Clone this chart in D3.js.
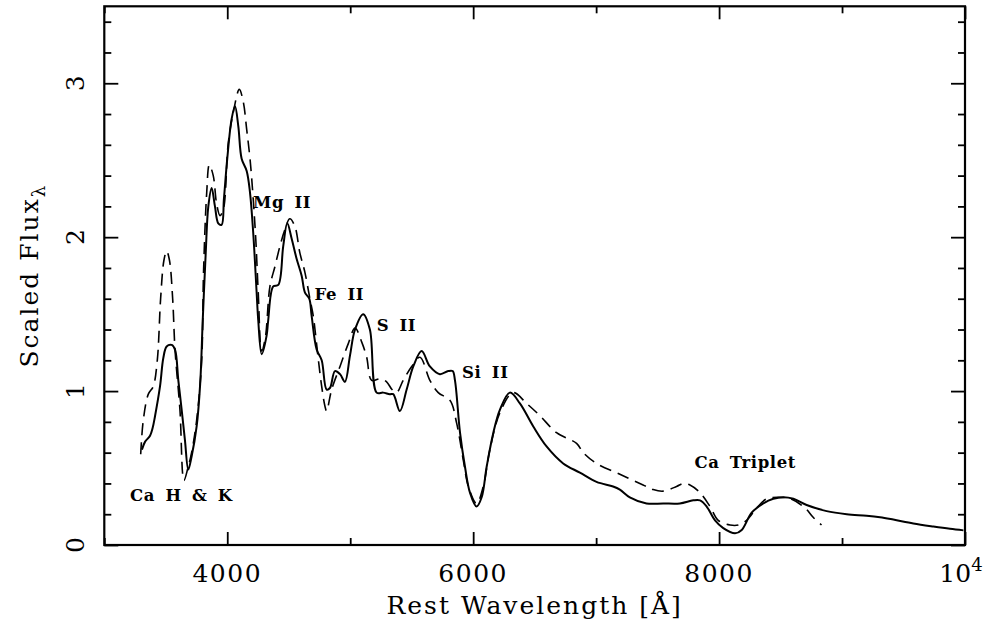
<!DOCTYPE html>
<html><head><meta charset="utf-8">
<script src="https://cdn.jsdelivr.net/npm/d3@7"></script>
<style>body{margin:0;background:#fff}svg{display:block}</style>
</head><body>
<svg id="c" width="997" height="629"></svg>
<script>
// Observed spectrum (solid)
const solidWave = [3306,3331,3372,3393,3412,3453,3480,3507,3548,3575,3602,3629,3656,3683,3710,3751,3780,3800,3825,3846,3873,3900,3927,3954,3973,4000,4036,4063,4090,4117,4158,4185,4211,4239,4252,4280,4320,4333,4374,4415,4455,4488,4524,4564,4605,4632,4667,4686,4727,4768,4808,4835,4876,4917,4957,4998,5039,5106,5160,5215,5268,5322,5350,5404,5459,5513,5581,5648,5729,5797,5833,5852,5893,5933,5974,6028,6069,6110,6164,6218,6299,6380,6489,6597,6732,6868,7003,7138,7193,7274,7410,7545,7681,7790,7845,7899,7967,8034,8130,8184,8265,8360,8441,8522,8604,8712,8875,9038,9200,9309,9417,9580,9743,9878,9987];
const solidFlux = [0.62,0.67,0.71,0.76,0.835,1.03,1.215,1.29,1.30,1.27,1.07,0.88,0.68,0.49,0.575,0.77,1.05,1.45,1.9,2.2,2.32,2.20,2.09,2.08,2.25,2.51,2.77,2.85,2.72,2.51,2.43,2.29,2.03,1.64,1.46,1.24,1.36,1.46,1.68,1.69,1.94,2.09,1.99,1.86,1.75,1.64,1.60,1.49,1.27,1.20,1.01,1.02,1.13,1.11,1.06,1.23,1.40,1.50,1.40,0.99,0.99,0.98,0.98,0.87,1.01,1.16,1.26,1.16,1.11,1.13,1.13,1.07,0.73,0.51,0.34,0.25,0.31,0.51,0.73,0.88,0.99,0.92,0.77,0.64,0.53,0.47,0.41,0.38,0.36,0.31,0.27,0.27,0.27,0.29,0.29,0.25,0.16,0.11,0.076,0.098,0.21,0.27,0.30,0.31,0.30,0.26,0.22,0.20,0.19,0.18,0.165,0.14,0.12,0.105,0.095];
// Model spectrum (dashed)
const dashWave = [3296,3317,3358,3398,3431,3458,3485,3507,3530,3556,3575,3615,3648,3680,3710,3751,3792,3807,3833,3854,3886,3913,3941,3968,4008,4049,4098,4130,4158,4185,4211,4233,4252,4280,4310,4347,4388,4428,4469,4509,4550,4590,4632,4672,4699,4740,4768,4795,4808,4849,4917,4985,5039,5093,5134,5174,5242,5296,5340,5377,5431,5500,5567,5648,5716,5811,5866,5920,5961,6028,6082,6136,6218,6326,6434,6543,6678,6841,6895,7003,7193,7382,7464,7545,7654,7709,7763,7845,7926,7993,8089,8157,8224,8306,8387,8480,8580,8700,8765,8833];
const dashFlux = [0.59,0.81,0.98,1.03,1.20,1.6,1.85,1.91,1.85,1.6,1.27,0.88,0.42,0.50,0.60,0.81,1.2,1.77,2.29,2.47,2.40,2.22,2.14,2.18,2.61,2.81,2.96,2.88,2.70,2.51,2.25,1.97,1.64,1.26,1.35,1.68,1.81,1.94,2.05,2.12,2.07,1.90,1.77,1.60,1.49,1.21,1.03,0.90,0.87,1.01,1.16,1.31,1.41,1.32,1.22,1.07,1.08,1.06,1.01,0.99,1.07,1.16,1.22,1.07,0.99,0.94,0.79,0.55,0.38,0.27,0.38,0.62,0.86,0.99,0.92,0.84,0.73,0.66,0.60,0.53,0.46,0.39,0.36,0.35,0.38,0.40,0.39,0.34,0.25,0.16,0.13,0.13,0.16,0.24,0.30,0.31,0.30,0.24,0.18,0.13];

const xMajor = [4000,6000,8000,10000];
const xMajorLabels = ["4000","6000","8000","10^4"];
const xMinor = [3000,5000,7000,9000];
const yMajor = [0,1,2,3];
const yMajorLabels = ["0","1","2","3"];
const yMinor = [0.2,0.4,0.6,0.8,1.2,1.4,1.6,1.8,2.2,2.4,2.6,2.8,3.2,3.4];

const lineLabels = ["Ca H & K","Mg II","Fe II","S II","Si II","Ca Triplet"];
const lineLabelWave = [3210,4210,4710,5215,5910,7800];
const lineLabelFlux = [0.285,2.19,1.59,1.39,1.085,0.50];

const svg = d3.select("#c");
const L=104.3, R=965, T=6.3, B=545;
const x = d3.scaleLinear().domain([3000,10000]).range([L,R]);
const y = d3.scaleLinear().domain([0,3.5]).range([B,T]);

svg.append("rect").attr("width",997).attr("height",629).attr("fill","#fff");

const serif = "'DejaVu Serif', serif";

function axisG(gen, tr){
  const g = svg.append("g").attr("transform",tr).call(gen);
  g.select(".domain").remove();
  g.selectAll("line").attr("stroke","#000").attr("stroke-width",1.8);
  g.selectAll("text").remove();
  return g;
}
axisG(d3.axisBottom(x).tickValues(xMajor).tickSize(-13), `translate(0,${B})`);
axisG(d3.axisBottom(x).tickValues(xMinor).tickSize(-7), `translate(0,${B})`);
axisG(d3.axisTop(x).tickValues(xMajor).tickSize(-13), `translate(0,${T})`);
axisG(d3.axisTop(x).tickValues(xMinor).tickSize(-7), `translate(0,${T})`);
axisG(d3.axisLeft(y).tickValues(yMajor).tickSize(-14), `translate(${L},0)`);
axisG(d3.axisLeft(y).tickValues(yMinor).tickSize(-7), `translate(${L},0)`);
axisG(d3.axisRight(y).tickValues(yMajor).tickSize(-14), `translate(${R},0)`);
axisG(d3.axisRight(y).tickValues(yMinor).tickSize(-7), `translate(${R},0)`);

svg.append("rect").attr("x",L).attr("y",T).attr("width",R-L).attr("height",B-T)
  .attr("fill","none").attr("stroke","#000").attr("stroke-width",2.2);

// x tick labels
xMajor.forEach((v,i)=>{
  const lab = xMajorLabels[i];
  const t = svg.append("text").attr("x",x(v)).attr("y",582).attr("text-anchor","middle")
    .attr("font-family",serif).attr("font-size",25).attr("fill","#000");
  if(lab.includes("^")){
    const [b,e]=lab.split("^");
    t.attr("x",x(v)-4);
    t.append("tspan").text(b);
    t.append("tspan").attr("dy",-11).attr("font-size",18).text(e);
  } else t.text(lab).attr("letter-spacing",1.5);
});
// y tick labels (rotated)
yMajor.forEach((v,i)=>{
  svg.append("text").attr("transform",`translate(84,${y(v)}) rotate(-90)`)
    .attr("text-anchor","middle").attr("font-family",serif).attr("font-size",25).attr("fill","#000")
    .text(yMajorLabels[i]);
});
// axis titles
svg.append("text").attr("x",(L+R)/2).attr("y",614).attr("text-anchor","middle")
  .attr("font-family",serif).attr("font-size",25).attr("letter-spacing",2).attr("fill","#000")
  .text("Rest Wavelength [Å]");
const yt = svg.append("text").attr("transform",`translate(38,${(T+B)/2}) rotate(-90)`)
  .attr("text-anchor","middle").attr("font-family",serif).attr("font-size",25).attr("letter-spacing",2).attr("fill","#000");
yt.append("tspan").text("Scaled Flux");
yt.append("tspan").attr("dy",7).attr("font-size",18).text("λ");

// spectra
const pts = (w,f)=>w.map((d,i)=>[d,f[i]]);
const line = d3.line().x(d=>x(d[0])).y(d=>y(d[1])).curve(d3.curveCatmullRom.alpha(0.5));
svg.append("path").datum(pts(dashWave,dashFlux)).attr("d",line).attr("fill","none")
  .attr("stroke","#000").attr("stroke-width",1.6).attr("stroke-dasharray","12,7");
svg.append("path").datum(pts(solidWave,solidFlux)).attr("d",line).attr("fill","none")
  .attr("stroke","#000").attr("stroke-width",2).attr("stroke-linejoin","round");

// line identifications
lineLabels.forEach((s,i)=>{
  svg.append("text").attr("x",x(lineLabelWave[i])).attr("y",y(lineLabelFlux[i]))
    .attr("font-family",serif).attr("font-weight","bold").attr("font-size",16.5)
    .attr("letter-spacing",0.6).attr("word-spacing",4).attr("fill","#000")
    .text(s);
});
</script>
</body></html>
